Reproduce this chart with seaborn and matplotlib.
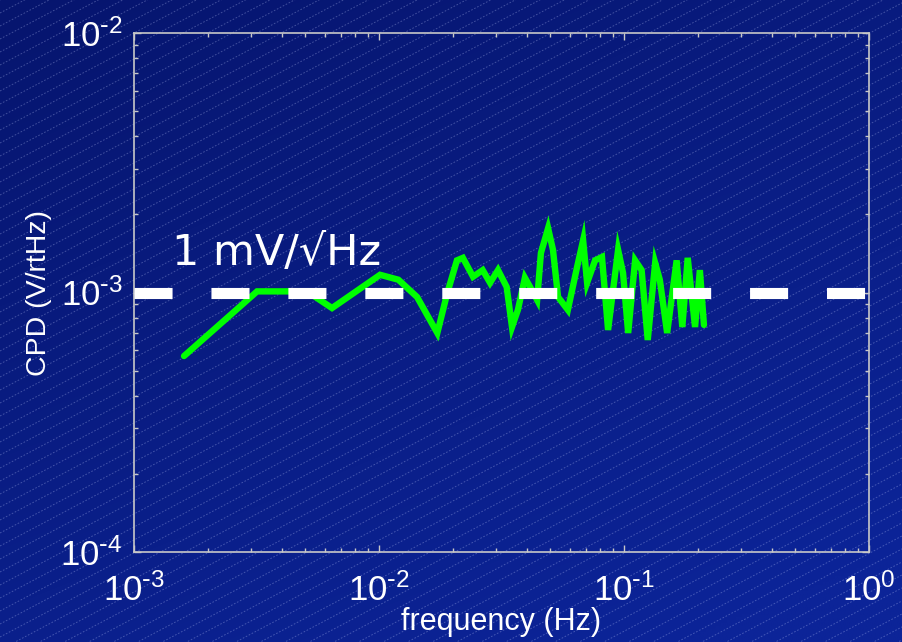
import numpy as np
import pandas as pd
import matplotlib
matplotlib.use("Agg")
import matplotlib.pyplot as plt
from matplotlib.ticker import LogLocator, FuncFormatter, NullFormatter
import seaborn as sns

# Measured contact-potential-difference noise spectrum
freq_hz = [1.60e-3, 3.18e-3, 5.08e-3, 6.43e-3, 1.01e-2, 1.20e-2, 1.43e-2, 1.73e-2,
           1.90e-2, 2.08e-2, 2.20e-2, 2.42e-2, 2.65e-2, 2.84e-2, 3.06e-2, 3.32e-2,
           3.49e-2, 3.69e-2, 3.94e-2, 4.21e-2, 4.42e-2, 4.58e-2, 4.90e-2, 5.13e-2,
           5.38e-2, 5.90e-2, 6.43e-2, 6.81e-2, 7.07e-2, 7.62e-2, 8.13e-2, 8.61e-2,
           9.46e-2, 9.91e-2, 1.04e-1, 1.11e-1, 1.18e-1, 1.25e-1, 1.34e-1, 1.40e-1,
           1.50e-1, 1.64e-1, 1.73e-1, 1.82e-1, 1.95e-1, 2.04e-1, 2.12e-1]
cpd_v_rthz = [5.69e-4, 1.01e-3, 1.01e-3, 8.71e-4, 1.17e-3, 1.12e-3, 9.61e-4, 6.98e-4,
              9.96e-4, 1.33e-3, 1.36e-3, 1.15e-3, 1.22e-3, 1.09e-3, 1.22e-3, 1.05e-3,
              7.36e-4, 8.57e-4, 1.14e-3, 1.02e-3, 9.36e-4, 1.42e-3, 1.77e-3, 1.46e-3,
              9.61e-4, 8.57e-4, 1.25e-3, 1.59e-3, 1.09e-3, 1.33e-3, 1.37e-3, 7.17e-4,
              1.46e-3, 1.19e-3, 6.98e-4, 1.33e-3, 1.22e-3, 6.56e-4, 1.30e-3, 1.12e-3,
              6.98e-4, 1.33e-3, 7.36e-4, 1.36e-3, 7.36e-4, 1.22e-3, 7.50e-4]

# Reference level and axis ranges
ref_level = 1e-3
ref_label = "1 mV/\u221aHz"
x_limits = [1e-3, 1e0]
y_limits = [1e-4, 1e-2]
x_title = "frequency (Hz)"
y_title = "CPD (V/rtHz)"

sns.set_style("ticks")
plt.rcParams["font.family"] = ["Liberation Sans", "DejaVu Sans"]
plt.rcParams["mathtext.default"] = "regular"
plt.rcParams["lines.scale_dashes"] = False

W, H = 903, 642
fig = plt.figure(figsize=(W / 100, H / 100), dpi=100)

# Slide-style backdrop: blue diagonal gradient with fine slanted hatching
bg = fig.add_axes([0, 0, 1, 1], zorder=-10)
gx, gy = np.meshgrid(np.linspace(0, 1, 300), np.linspace(0, 1, 220))
t = np.clip(0.4 * gx + 0.7 * gy, 0, 1)[..., None]
top = np.array([6, 21, 110]) / 255.0
bot = np.array([12, 36, 152]) / 255.0
img = top * (1 - t) + bot * t
bg.imshow(img, extent=[0, W, H, 0], aspect="auto", interpolation="bilinear")
slope = 0.53
xs = np.array([0.0, W])
for c in np.arange(0, H + W * slope + 13, 13):
    bg.plot(xs, c - slope * xs, color=(0.78, 0.82, 1.0), alpha=0.3,
            lw=0.7, ls=(0, (1.2, 1.2)))
bg.set_xlim(0, W)
bg.set_ylim(H, 0)
bg.axis("off")

ax = fig.add_axes([134 / W, 1 - 552 / H, (869 - 134) / W, (552 - 33) / H])
ax.set_facecolor("none")
ax.set_xscale("log")
ax.set_yscale("log")

df = pd.DataFrame({"f": freq_hz, "cpd": cpd_v_rthz})
sns.lineplot(data=df, x="f", y="cpd", sort=False, estimator=None, ax=ax,
             color="#00ff00", lw=4.6, solid_joinstyle="miter", zorder=3)

ax.axhline(ref_level, color="white", lw=8, dashes=(27.4, 28.0),
           solid_capstyle="butt", dash_capstyle="butt", zorder=4)
ax.text(172 / W, 1 - 265 / H, ref_label, transform=fig.transFigure,
        color="white", fontsize=31, family="DejaVu Sans", va="baseline", ha="left")

ax.set_xlim(*x_limits)
ax.set_ylim(*y_limits)


def decade_label(v, pos):
    e = int(round(np.log10(v)))
    sign = r"\text{-}" if e < 0 else ""
    return rf"$10^{{{sign}{abs(e)}}}$"


for axis in (ax.xaxis, ax.yaxis):
    axis.set_major_locator(LogLocator(base=10, numticks=10))
    axis.set_minor_locator(LogLocator(base=10, subs=np.arange(2, 10), numticks=20))
    axis.set_major_formatter(FuncFormatter(decade_label))
    axis.set_minor_formatter(NullFormatter())

edge = "#c8c8c8"
for s in ax.spines.values():
    s.set_color(edge)
    s.set_linewidth(1.2)
    s.set_visible(True)
ax.tick_params(which="both", direction="in", top=True, right=True, colors=edge,
               labelcolor="white")
ax.tick_params(which="major", length=5, width=1.0, labelsize=25)
ax.tick_params(axis="x", which="major", pad=15)
ax.tick_params(axis="y", which="major", pad=8)
ax.tick_params(which="minor", length=3, width=1.0)

ax.set_xlabel(x_title, color="white", fontsize=22, labelpad=0)
ax.set_ylabel(y_title, color="white", fontsize=20.5, labelpad=6)

fig.savefig("out.png", dpi=100)
